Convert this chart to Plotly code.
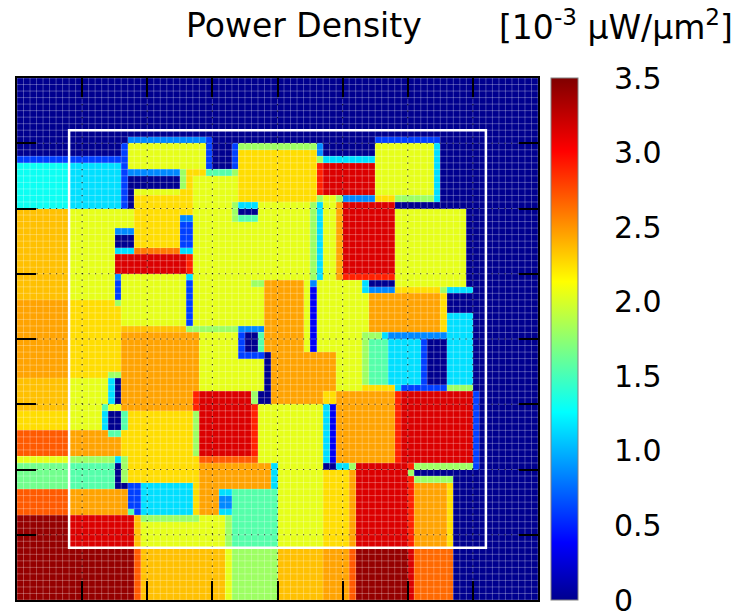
import numpy as np
import plotly.graph_objects as go

N = 80  # floorplan grid: N x N tiles

# power density levels [10^-3 uW/um^2]
DB, B1, B2, B3 = 0.0, 0.35, 0.6, 0.85
C1, C2, AQ, LG2, LG = 1.15, 1.3, 1.55, 1.65, 1.8
YG, Y, OY, O = 2.05, 2.25, 2.35, 2.45
O2, OR2, OR, RO, R, DR = 2.6, 2.65, 2.7, 2.9, 3.15, 3.42

# blocks: (col0, col1, row0, row1, density); rows counted from the top edge
left_blocks = [
    (0, 16, 12, 13, B2), (0, 8, 13, 20, C2), (8, 16, 13, 20, C1),
    (0, 8, 20, 34, OY), (0, 8, 34, 46, O), (0, 8, 46, 51, OY),
    (0, 8, 51, 54, Y), (0, 8, 54, 58, OR), (0, 8, 58, 59, YG),
    (0, 8, 59, 63, LG2), (0, 8, 63, 67, OR), (0, 8, 67, 80, DR),
    (8, 15, 20, 34, YG), (8, 16, 34, 46, Y), (8, 16, 46, 54, YG),
    (8, 16, 54, 58, O), (8, 15, 58, 59, LG), (8, 15, 59, 63, AQ),
    (8, 17, 63, 67, O), (8, 18, 67, 72, R),
]

upper_blocks = [
    (17, 29, 9, 10, B3), (16, 17, 10, 20, B2), (17, 29, 10, 14, YG),
    (17, 25, 14, 15, B3), (17, 25, 15, 17, DB), (25, 26, 14, 17, LG),
    (26, 29, 14, 20, Y), (17, 18, 17, 20, DB), (18, 25, 17, 18, YG),
    (18, 25, 18, 26, Y), (25, 29, 17, 21, Y),
    (27, 45, 15, 31, YG), (15, 18, 20, 23, YG), (15, 18, 23, 24, B3),
    (15, 18, 24, 26, DB), (15, 18, 26, 27, C1), (18, 25, 26, 27, O2),
    (25, 27, 21, 22, B3), (25, 27, 22, 26, B2), (25, 27, 26, 27, C1),
    (15, 27, 27, 30, R), (26, 27, 27, 30, RO),
    (29, 30, 9, 14, B2), (30, 33, 9, 14, DB), (33, 34, 10, 14, B2),
    (29, 33, 14, 15, AQ), (33, 34, 14, 15, LG),
    (34, 46, 10, 11, LG), (34, 46, 11, 19, Y),
    (34, 37, 19, 20, C1), (34, 37, 20, 21, DB), (34, 37, 21, 22, AQ),
    (33, 34, 19, 22, LG),
    (45, 46, 19, 31, LG), (46, 47, 19, 31, C1), (47, 49, 18, 31, YG),
    (49, 50, 19, 31, O), (49, 50, 18, 19, LG),
    (46, 47, 10, 12, B3), (46, 47, 12, 13, LG), (47, 55, 12, 13, C1),
    (46, 47, 13, 18, RO), (47, 55, 13, 18, R), (46, 47, 18, 19, LG),
    (50, 55, 18, 19, B3),
    (50, 58, 19, 30, R), (50, 58, 30, 31, RO),
    (55, 65, 9, 10, B2), (55, 64, 10, 18, YG), (64, 65, 10, 19, C1),
    (55, 58, 18, 19, Y), (58, 64, 18, 19, LG),
    (58, 69, 20, 32, YG),
]

middle_blocks = [
    (58, 65, 32, 33, Y), (65, 66, 32, 33, LG), (66, 70, 32, 33, C1),
    (53, 54, 31, 33, C1), (54, 58, 31, 32, DB), (54, 58, 32, 33, B3),
    (27, 38, 30, 48, YG), (16, 27, 30, 38, YG),
    (36, 38, 31, 32, LG), (38, 44, 31, 42, O), (44, 45, 31, 42, YG),
    (45, 46, 31, 32, B3), (45, 46, 32, 42, B1), (46, 53, 31, 42, YG),
    (53, 54, 33, 40, YG), (54, 65, 33, 39, O), (65, 66, 33, 39, Y),
    (66, 70, 33, 36, DB), (66, 70, 36, 47, C1), (66, 70, 47, 48, LG),
    (53, 56, 39, 40, LG), (56, 57, 39, 40, C1), (57, 66, 39, 40, B3),
    (53, 54, 40, 47, LG), (54, 57, 40, 47, AQ), (57, 62, 40, 47, C1),
    (62, 63, 40, 47, B2), (63, 66, 40, 47, DB),
    (53, 58, 47, 48, Y), (58, 59, 47, 48, C1), (59, 66, 47, 48, B2),
    (15, 16, 30, 31, B3), (15, 16, 31, 34, B2), (15, 16, 34, 35, LG),
    (26, 27, 30, 31, C1), (26, 27, 31, 38, B2), (26, 27, 38, 39, LG),
    (27, 34, 38, 39, LG),
    (34, 38, 38, 39, B3), (34, 35, 39, 43, B2), (35, 37, 39, 42, DB),
    (37, 38, 39, 42, AQ), (35, 38, 42, 43, B2),
    (16, 26, 38, 39, OY), (16, 28, 39, 51, O),
    (14, 16, 45, 46, LG), (14, 15, 46, 50, C1), (15, 16, 46, 50, DB),
    (13, 14, 50, 51, AQ), (13, 14, 51, 54, C1), (14, 16, 51, 54, DB),
    (14, 16, 54, 55, AQ),
    (16, 27, 51, 62, Y), (16, 17, 51, 54, AQ),
    (27, 28, 48, 51, RO), (27, 28, 51, 58, LG), (27, 28, 58, 67, Y),
    (28, 36, 48, 58, R), (36, 37, 48, 50, LG), (36, 37, 50, 58, RO),
    (28, 37, 58, 59, OR), (37, 39, 48, 50, DB),
    (39, 49, 42, 50, O), (49, 53, 42, 48, YG), (47, 49, 48, 50, Y),
    (37, 47, 50, 59, YG), (47, 48, 50, 59, C1), (48, 49, 50, 59, B1),
    (49, 58, 48, 59, O), (58, 59, 48, 59, RO), (59, 70, 48, 59, R),
    (70, 71, 48, 60, B2),
]

lower_blocks = [
    (28, 39, 59, 63, O), (33, 40, 63, 72, AQ), (39, 40, 59, 63, C1),
    (40, 47, 59, 72, YG),
    (47, 49, 59, 60, DB), (49, 51, 59, 60, C1), (51, 52, 59, 60, LG),
    (47, 51, 60, 72, Y), (51, 52, 60, 72, O),
    (52, 60, 59, 72, R), (60, 61, 59, 60, RO), (60, 61, 60, 61, LG),
    (60, 61, 61, 72, RO),
    (61, 70, 59, 60, LG), (61, 67, 61, 62, LG), (61, 67, 62, 72, O),
    (66, 67, 62, 72, Y),
    (15, 16, 58, 59, C1), (15, 16, 59, 62, DB), (15, 18, 62, 63, DB),
    (16, 17, 58, 62, LG),
    (17, 19, 62, 66, B2), (17, 18, 66, 67, AQ), (18, 19, 66, 67, B2),
    (19, 27, 62, 67, C1), (19, 28, 67, 68, LG), (18, 19, 67, 72, OY),
    (28, 31, 63, 67, O), (31, 33, 63, 67, C1), (31, 33, 64, 66, B3),
    (19, 32, 68, 72, YG), (28, 32, 67, 68, YG), (32, 33, 67, 72, LG),
]

bottom_blocks = [
    (0, 18, 72, 80, DR), (18, 19, 72, 80, OR), (19, 32, 72, 80, OY),
    (32, 33, 72, 80, YG), (33, 40, 72, 80, LG), (40, 47, 72, 80, OY),
    (47, 51, 72, 80, O), (51, 52, 72, 80, OR), (52, 60, 72, 80, DR),
    (60, 61, 72, 80, R), (61, 67, 72, 80, OR2),
]

# core outline (white frame), in tile units
core_box = (8, 72, 8, 72)

cbar_ticks = [0, 0.5, 1.0, 1.5, 2.0, 2.5, 3.0, 3.5]
cbar_text = ["0", "0.5", "1.0", "1.5", "2.0", "2.5", "3.0", "3.5"]
major_ticks = [10, 20, 30, 40, 50, 60, 70]
zmin, zmax = 0.0, 3.5

z = np.full((N, N), DB)
for group in (left_blocks, upper_blocks, middle_blocks, lower_blocks, bottom_blocks):
    for c0, c1, r0, r1, v in group:
        z[r0:r1, c0:c1] = v

jet = [
    [0.0, "rgb(0,0,143)"], [0.11, "rgb(0,0,255)"], [0.36, "rgb(0,255,255)"],
    [0.61, "rgb(255,255,0)"], [0.86, "rgb(255,0,0)"], [1.0, "rgb(128,0,0)"],
]

centers = np.arange(N) + 0.5
fig = go.Figure()
fig.add_trace(go.Heatmap(
    x=centers, y=centers, z=z, zmin=zmin, zmax=zmax, colorscale=jet,
    hoverinfo="skip",
    colorbar=dict(
        x=1.025, xanchor="left", xpad=0, y=0.5, yanchor="middle",
        len=1.0, lenmode="fraction", thickness=27, ypad=0,
        outlinecolor="#808080", outlinewidth=1,
        tickmode="array", tickvals=cbar_ticks, ticktext=cbar_text,
        ticks="outside", ticklen=30, tickcolor="rgba(0,0,0,0)",
        ticklabeloverflow="allow",
        tickfont=dict(family="DejaVu Sans", size=30, color="black"),
    ),
))

# faint tile boundaries
gx, gy = [], []
for k in range(N + 1):
    gx += [k, k, None, 0, N, None]
    gy += [0, N, None, k, k, None]
fig.add_trace(go.Scatter(x=gx, y=gy, mode="lines", hoverinfo="skip",
                         line=dict(color="rgba(255,255,255,0.28)", width=1),
                         showlegend=False))

# dotted major grid
dx, dy = [], []
for t in major_ticks:
    dx += [t, t, None, 0, N, None]
    dy += [0, N, None, t, t, None]
fig.add_trace(go.Scatter(x=dx, y=dy, mode="lines", hoverinfo="skip",
                         line=dict(color="rgba(0,0,0,0.75)", width=1.2, dash="1.2px,5.3px"),
                         showlegend=False))

x0, x1, y0, y1 = core_box
fig.add_shape(type="rect", x0=x0, x1=x1, y0=y0, y1=y1, xref="x", yref="y",
              line=dict(color="white", width=2.5), fillcolor="rgba(0,0,0,0)")

# tick marks drawn across the colour bar
cb_left = 1.025
cb_w = 27 / 521
for v in cbar_ticks[1:-1]:
    fig.add_shape(type="line", xref="paper", yref="paper",
                  x0=cb_left, x1=cb_left + cb_w, y0=(v - zmin) / (zmax - zmin),
                  y1=(v - zmin) / (zmax - zmin),
                  line=dict(color="rgba(0,0,0,0.8)", width=1.2))

axis_common = dict(
    range=[0, N], showgrid=False, zeroline=False, showticklabels=False,
    tickmode="array", tickvals=major_ticks, ticks="inside", ticklen=19,
    tickwidth=1.5, tickcolor="black", showline=True, linecolor="black",
    linewidth=2, mirror="ticks", layer="above traces",
)
fig.update_layout(
    width=746, height=611,
    margin=dict(l=17, r=208, t=78, b=11),
    paper_bgcolor="white", plot_bgcolor="white",
    xaxis=dict(**axis_common, constrain="domain"),
    yaxis=dict(**{**axis_common, "range": [N, 0]}),
    showlegend=False,
    font=dict(family="DejaVu Sans", color="black"),
    annotations=[
        dict(text="Power Density", xref="paper", yref="paper", x=0.55, y=1.1,
             xanchor="center", yanchor="middle", showarrow=False,
             font=dict(family="DejaVu Sans", size=33, color="black")),
        dict(text="[10<sup>-3</sup> µW/µm<sup>2</sup>]", xref="paper", yref="paper",
             x=1.378, y=1.1, xanchor="right", yanchor="middle", showarrow=False,
             font=dict(family="DejaVu Sans", size=33, color="black")),
    ],
)

fig.write_html("out.html")
